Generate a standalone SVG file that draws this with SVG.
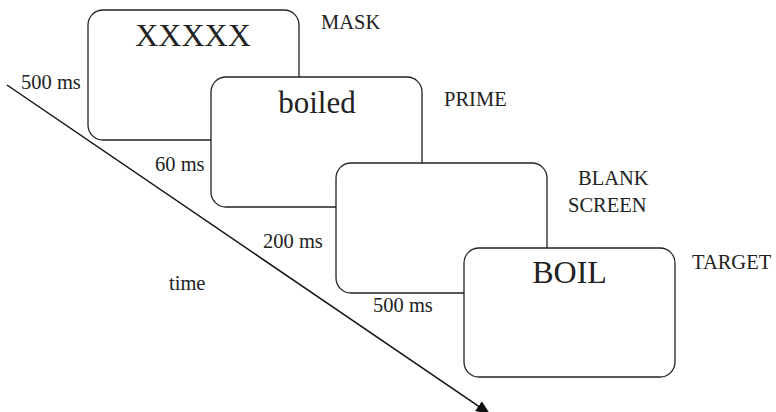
<svg xmlns="http://www.w3.org/2000/svg" width="776" height="412" viewBox="0 0 776 412">
<style>
.box{fill:#fff;stroke:#222;stroke-width:1.3}
.t{font-family:"Liberation Serif","Times New Roman",serif;fill:#222}
.lbl{font-size:20.5px}
.big{font-size:32px;text-anchor:middle}
.ax{stroke:#111;stroke-width:1.5;fill:none}
</style>
<defs>
<marker id="ah" viewBox="0 0 14 12" refX="14" refY="6" markerWidth="14" markerHeight="12" markerUnits="userSpaceOnUse" orient="auto">
<path d="M0,0 L14,6 L0,12 z" fill="#111"/>
</marker>
</defs>
<rect width="776" height="412" fill="#fff"/>
<g id="connectors">
<line class="ax" x1="7" y1="85" x2="490" y2="414" marker-end="url(#ah)"/>
</g>
<g id="mask">
<rect class="box" x="88" y="10" width="211" height="130" rx="15"/>
<text class="t big" x="193" y="46">XXXXX</text>
<text class="t lbl" x="321" y="29">MASK</text>
</g>
<g id="prime">
<rect class="box" x="211" y="77" width="211" height="130" rx="15"/>
<text class="t big" x="317" y="113" style="font-size:31px">boiled</text>
<text class="t lbl" x="444" y="106">PRIME</text>
</g>
<g id="blank">
<rect class="box" x="336" y="163" width="211" height="130" rx="15"/>
<text class="t lbl" x="578" y="185">BLANK</text>
<text class="t lbl" x="568" y="212">SCREEN</text>
</g>
<g id="target">
<rect class="box" x="464" y="248" width="211" height="129" rx="15"/>
<text class="t big" x="569.5" y="283">BOIL</text>
<text class="t lbl" x="692" y="269">TARGET</text>
</g>
<g id="durations">
<text class="t lbl" x="21" y="89">500 ms</text>
<text class="t lbl" x="155" y="171">60 ms</text>
<text class="t lbl" x="263" y="248">200 ms</text>
<text class="t lbl" x="373" y="312">500 ms</text>
<text class="t lbl" x="169" y="290">time</text>
</g>
</svg>
